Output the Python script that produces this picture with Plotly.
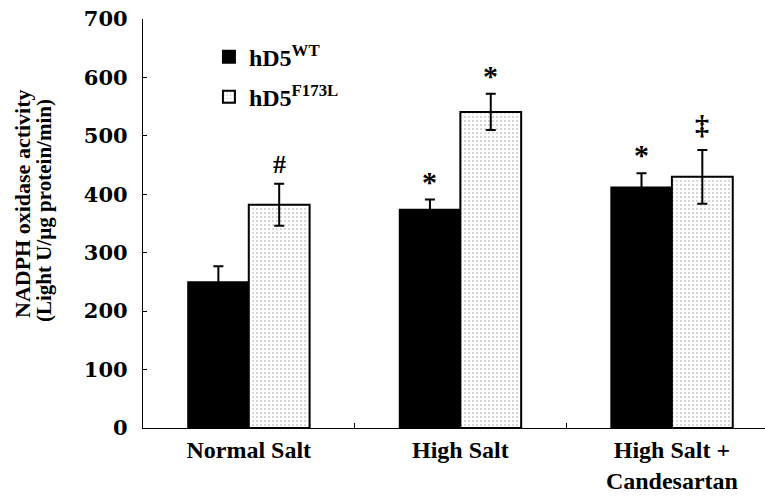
import plotly.graph_objects as go

categories = ["Normal Salt", "High Salt", "High Salt +<br>Candesartan"]
wt_values = [250, 374, 412]
wt_errors = [27, 17, 24]
mut_values = [382, 541, 430]
mut_errors = [36, 31, 46]
wt_marks = ["", "*", "*"]
mut_marks = ["#", "*", "‡"]
series_names = ["hD5<sup>WT</sup>", "hD5<sup>F173L</sup>"]
y_ticks = [0, 100, 200, 300, 400, 500, 600, 700]

SERIF = "Liberation Serif, Times New Roman, serif"

fig = go.Figure()
fig.add_trace(go.Bar(
    x=categories, y=wt_values, name=series_names[0], legendgroup="a",
    marker=dict(color="black", line=dict(color="black", width=1.5)),
    error_y=dict(type="data", array=wt_errors, color="black", thickness=2, width=5),
))
fig.add_trace(go.Bar(
    x=categories, y=mut_values, name=series_names[1], legendgroup="b",
    marker=dict(color="white", line=dict(color="black", width=2),
                pattern=dict(shape=".", fgcolor="#999999", bgcolor="white",
                             size=4, solidity=0.22)),
    error_y=dict(type="data", array=mut_errors, color="black", thickness=2, width=5),
))

mark_style = {"*": (30, 0), "#": (26, 3), "‡": (28, 8)}
off = 0.144
annotations = []
for sign, marks, vals, errs in ((-1, wt_marks, wt_values, wt_errors),
                                (1, mut_marks, mut_values, mut_errors)):
    for i, (m, v, e) in enumerate(zip(marks, vals, errs)):
        if m:
            size, ys = mark_style[m]
            annotations.append(dict(x=i + sign * off, y=v + e, xref="x", yref="y", text=m,
                                    showarrow=False, yanchor="bottom", yshift=ys,
                                    font=dict(family=SERIF, size=size, color="black",
                                              weight="bold")))

L, R, T, B = 143, 0, 19, 70
pw = 765 - L - R
ph = 498 - T - B
# y-axis title as two rotated lines (pixel positions converted to paper coords)
annotations.append(dict(x=(22 - L) / pw, y=(428 - 204) / ph, xref="paper", yref="paper",
                        text="NADPH oxidase activity",
                        showarrow=False, textangle=-90, xanchor="center", yanchor="middle",
                        font=dict(family=SERIF, size=22, color="black", weight="bold")))
annotations.append(dict(x=(44 - L) / pw, y=(428 - 211) / ph, xref="paper", yref="paper",
                        text="(Light U/µg protein/min)",
                        showarrow=False, textangle=-90, xanchor="center", yanchor="middle",
                        font=dict(family=SERIF, size=21, color="black", weight="bold")))

fig.update_layout(
    width=765, height=498,
    margin=dict(l=L, r=R, t=T, b=B),
    paper_bgcolor="white", plot_bgcolor="white",
    barmode="group", bargap=0.425, bargroupgap=0,
    showlegend=True,
    legend=dict(x=0.106, y=0.962, xanchor="left", yanchor="top",
                bgcolor="rgba(0,0,0,0)", tracegroupgap=6,
                font=dict(family=SERIF, size=24, color="black", weight="bold"),
                itemsizing="constant"),
    annotations=annotations,
    xaxis=dict(
        type="category", range=[-0.5, 2.44],
        showline=True, linecolor="black", linewidth=1.2,
        ticks="inside", ticklen=5, tickcolor="black", tickson="boundaries",
        showgrid=False, zeroline=False,
        tickfont=dict(family=SERIF, size=24, color="black", weight="bold"),
    ),
    yaxis=dict(
        range=[0, 700], tickvals=y_ticks,
        showline=True, linecolor="black", linewidth=1.2,
        ticks="inside", ticklen=4, tickcolor="black",
        showgrid=False, zeroline=False,
        ticklabelstandoff=10,
        tickfont=dict(family="DejaVu Serif, serif", size=21, color="black", weight="bold"),
    ),
)

fig.write_html("out.html", config={"displayModeBar": False},
               post_script="document.body.style.margin='0';")
